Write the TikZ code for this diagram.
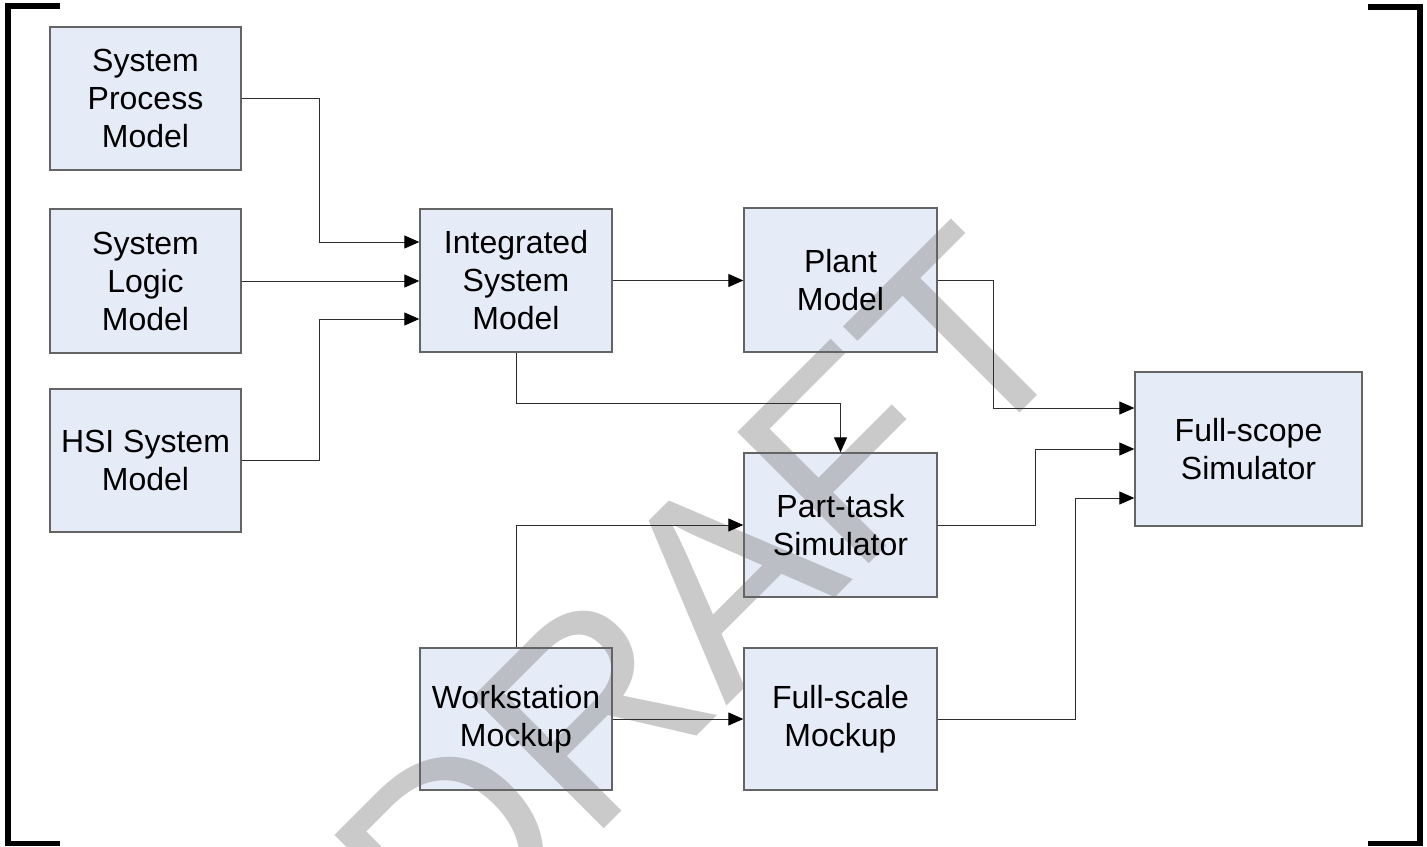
\documentclass[tikz,border=0pt]{standalone}
\usepackage{fontspec}
\setmainfont{Liberation Sans}
\usetikzlibrary{arrows.meta,calc}

\definecolor{boxfill}{RGB}{230,236,247}
\definecolor{boxline}{RGB}{100,100,100}
\definecolor{wire}{RGB}{45,45,45}
\definecolor{stamp}{RGB}{128,128,128}

\pgfdeclarelayer{fills}
\pgfdeclarelayer{stamplayer}
\pgfsetlayers{fills,stamplayer,main}

\begin{document}
\begin{tikzpicture}[
  x=0.5pt, y=-0.5pt,
  block/.style={draw=boxline, line width=0.7pt, inner sep=0pt,
    align=center, font=\fontsize{16pt}{19pt}\selectfont},
  arr/.style={draw=wire, line width=0.5pt,
    -{Triangle[length=7.5pt,width=6.5pt,color=black]}},
  bracket/.style={line width=2.8pt, black, line join=miter, line cap=butt},
  stampstyle/.style={text=stamp, text opacity=0.42, inner sep=0pt,
    font=\fontsize{135pt}{135pt}\selectfont}
]
\useasboundingbox (0,0) rectangle (1427,846);

% corner brackets of the frame
\draw[bracket] (60,6) -- (8,6) -- (8,843.5) -- (60,843.5);
\draw[bracket] (1368,7) -- (1420,7) -- (1420,843.5) -- (1368,843.5);

% model blocks
\node[block, minimum width=95.5pt, minimum height=71.5pt] (spm)   at (145.5,98.5) {System\\Process\\Model};
\node[block, minimum width=95.5pt, minimum height=72pt]   (slm)   at (145.5,281)  {System\\Logic\\Model};
\node[block, minimum width=95.5pt, minimum height=71.5pt] (hsi)   at (145.5,460.5) {HSI System\\Model};
\node[block, minimum width=96pt,   minimum height=71.5pt] (ism)   at (516,280.5)  {Integrated\\System\\Model};
\node[block, minimum width=96.5pt, minimum height=72pt]   (plant) at (840.5,280)  {Plant\\Model};
\node[block, minimum width=96.5pt, minimum height=72pt]   (part)  at (840.5,525)  {Part-task\\Simulator};
\node[block, minimum width=96pt,   minimum height=71pt]   (ws)    at (516,719)    {Workstation\\Mockup};
\node[block, minimum width=96.5pt, minimum height=71pt]   (fsm)   at (840.5,719)  {Full-scale\\Mockup};
\node[block, minimum width=113.5pt, minimum height=77pt]  (fss)   at (1248.5,449) {Full-scope\\Simulator};

% block fills, kept beneath the watermark
\begin{pgfonlayer}{fills}
  \foreach \b in {spm,slm,hsi,ism,plant,part,ws,fsm,fss}
    \fill[boxfill] (\b.south west) rectangle (\b.north east);
\end{pgfonlayer}

% connectors
\draw[arr] (spm.east) -| (319,242) |- ([yshift=19.25pt]ism.west);
\draw[arr] (slm.east) -- (slm.east -| ism.west);
\draw[arr] (hsi.east) -| (319,319) |- ([yshift=-19.25pt]ism.west);
\draw[arr] (ism.east) -- (ism.east -| plant.west);
\draw[arr] (ism.south) |- (840.5,403) -- (part.north);
\draw[arr] (plant.east) -| (993,408) |- ([yshift=20.5pt]fss.west);
\draw[arr] (part.east) -| (1035,449) |- (fss.west);
\draw[arr] (fsm.east) -| (1075,498) |- ([yshift=-24.5pt]fss.west);
\draw[arr] (ws.north) |- (part.west);
\draw[arr] (ws.east) -- (ws.east -| fsm.west);

% watermark
\begin{pgfonlayer}{stamplayer}
\begin{scope}
  \clip (0,0) rectangle (1427,846);
  \node[stampstyle, rotate=45, anchor=base] (stamp) at (769,664) {DRAFT};
\end{scope}
\end{pgfonlayer}
\end{tikzpicture}
\end{document}
